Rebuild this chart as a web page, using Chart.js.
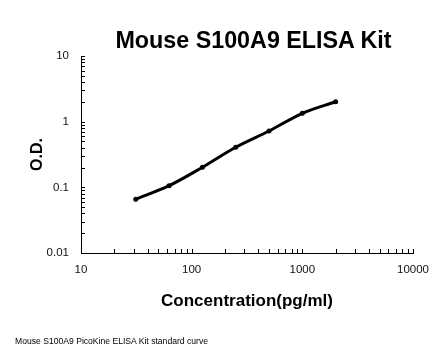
<!DOCTYPE html>
<html>
<head>
<meta charset="utf-8">
<script src="https://cdn.jsdelivr.net/npm/chart.js@4/dist/chart.umd.min.js"></script>
<style>
  html, body { margin: 0; padding: 0; background: #fff; }
  #wrap { position: relative; width: 446px; height: 356px; overflow: hidden; background: #fff; }
  #c { position: absolute; left: 0; top: 0; }
  #title { position: absolute; left: 0; width: 507px; top: 27px; text-align: center;
           font: bold 23.3px "Liberation Sans", Arial, sans-serif; color: #000; white-space: nowrap; }
  #note { position: absolute; left: 15px; top: 336px; font: 8.6px "Liberation Sans", Arial, sans-serif;
          color: #000; white-space: nowrap; }
</style>
</head>
<body>
<div id="wrap">
  <canvas id="c" width="446" height="356"></canvas>
  <div id="title">Mouse S100A9 ELISA Kit</div>
  <div id="note">Mouse S100A9 PicoKine ELISA Kit standard curve</div>
</div>
<script>
// Data
const concentrations = [31.25, 62.5, 125, 250, 500, 1000, 2000];
const odValues = [0.066, 0.106, 0.202, 0.407, 0.72, 1.34, 2.01];
const xTickValues = [10, 100, 1000, 10000];
const yTickValues = [0.01, 0.1, 1, 10];
const xTickLabels = ['10', '100', '1000', '10000'];
const yTickLabels = ['0.01', '0.1', '1', '10'];

function minorValues(min, max) {
  const out = [];
  for (let d = min; d < max; d *= 10) {
    for (let k = 1; k <= 9; k++) out.push(d * k);
  }
  out.push(max);
  return out;
}

const minorTicks = {
  id: 'minorTicks',
  afterDraw(chart) {
    const ctx = chart.ctx;
    const xs = chart.scales.x, ys = chart.scales.y;
    const a = chart.chartArea;
    ctx.save();
    ctx.strokeStyle = '#000';
    ctx.lineWidth = 1;
    ctx.beginPath();
    minorValues(xs.min, xs.max).forEach(v => {
      const px = Math.round(xs.getPixelForValue(v)) + 0.5;
      ctx.moveTo(px, a.bottom);
      ctx.lineTo(px, a.bottom - 4);
    });
    minorValues(ys.min, ys.max).forEach(v => {
      const py = Math.round(ys.getPixelForValue(v)) + 0.5;
      ctx.moveTo(a.left, py);
      ctx.lineTo(a.left + 4, py);
    });
    ctx.stroke();
    ctx.restore();
  }
};

new Chart(document.getElementById('c'), {
  type: 'line',
  data: {
    datasets: [{
      data: concentrations.map((x, i) => ({ x: x, y: odValues[i] })),
      borderColor: '#000',
      backgroundColor: '#000',
      borderWidth: 3,
      pointRadius: 2.5,
      pointBorderWidth: 0,
      pointHoverRadius: 2.5,
      cubicInterpolationMode: 'monotone',
      fill: false
    }]
  },
  options: {
    responsive: false,
    animation: false,
    events: [],
    layout: { padding: { left: 15, right: 33, top: 56, bottom: 44 } },
    plugins: { legend: { display: false }, tooltip: { enabled: false }, title: { display: false } },
    scales: {
      x: {
        type: 'logarithmic',
        min: 10, max: 10000,
        afterBuildTicks: s => { s.ticks = xTickValues.map(v => ({ value: v })); },
        afterFit: s => { s.height = 59; },
        grid: { display: false, drawTicks: false },
        border: { display: true, color: '#000', width: 1 },
        ticks: {
          padding: 10,
          color: '#111',
          font: { family: 'Liberation Sans', size: 11.5 },
          maxRotation: 0,
          autoSkip: false,
          callback: (v, i) => xTickLabels[i]
        },
        title: {
          display: true,
          text: 'Concentration(pg/ml)',
          color: '#000',
          font: { family: 'Liberation Sans', size: 17, weight: 'bold' },
          padding: { top: 0, bottom: 0 }
        }
      },
      y: {
        type: 'logarithmic',
        min: 0.01, max: 10,
        afterBuildTicks: s => { s.ticks = yTickValues.map(v => ({ value: v })); },
        afterFit: s => { s.width = 66; },
        grid: { display: false, drawTicks: false },
        border: { display: true, color: '#000', width: 1 },
        ticks: {
          padding: 12,
          color: '#111',
          font: { family: 'Liberation Sans', size: 11.5 },
          autoSkip: false,
          callback: (v, i) => yTickLabels[i]
        },
        title: {
          display: true,
          text: 'O.D.',
          color: '#000',
          font: { family: 'Liberation Sans', size: 16, weight: 'bold' },
          padding: { top: 13, bottom: 0 }
        }
      }
    }
  },
  plugins: [minorTicks]
});
</script>
</body>
</html>
